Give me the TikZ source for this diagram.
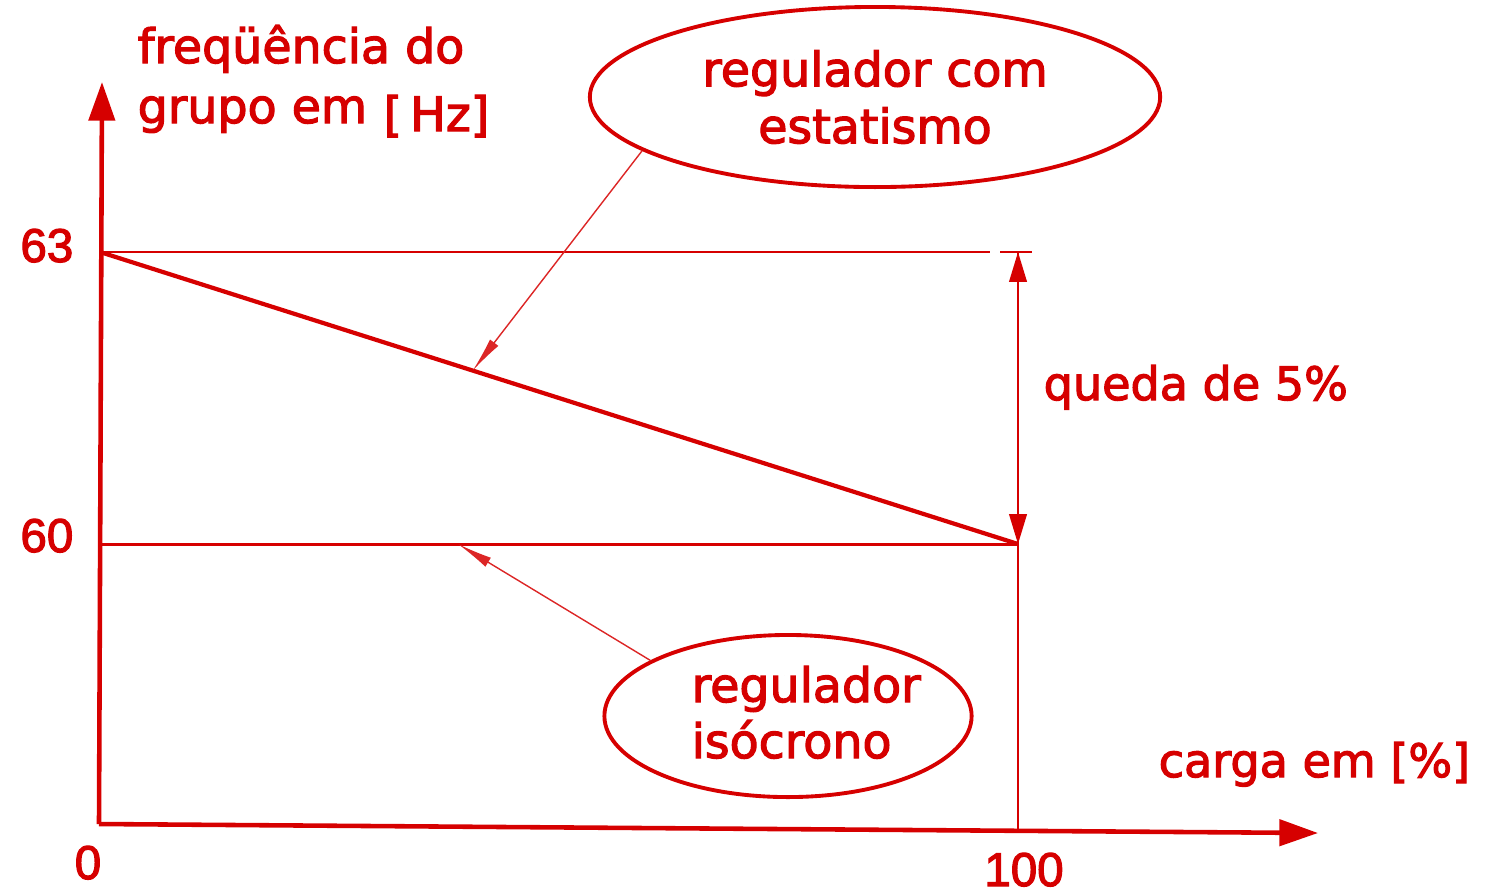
\documentclass[tikz,border=0pt]{standalone}
\usepackage{fontspec}
\setmainfont{DejaVu Sans}[FakeBold=2.5]
\newfontfamily\numfont{Liberation Sans}[FakeBold=2.5]
\usetikzlibrary{arrows.meta,shapes.geometric}
\definecolor{tinta}{RGB}{214,0,0}
\begin{document}
\begin{tikzpicture}[x=0.01cm, y=-0.01cm, >={Triangle[length=8.5pt,width=5pt]},
  every node/.style={text=tinta, inner sep=0pt, font=\fontsize{13.5}{16.2}\selectfont},
  eixo/.style={draw=tinta, line width=1.3pt, -{Triangle[length=11pt,width=7.4pt]}},
  balao/.style={ellipse, draw=tinta, line width=1.1pt, inner sep=0pt},
  guia/.style={draw=tinta!85, line width=0.4pt, -{Latex[length=10pt,width=3pt]}},
  numero/.style={font=\numfont\fontsize{13.5}{16}\selectfont},
  menor/.style={font=\fontsize{13.1}{16}\selectfont}]
 \useasboundingbox (0,0) rectangle (1486,893);
 \coordinate (O) at (99,824);
 \coordinate (f63) at (100,252);
 \coordinate (f60) at (100,544);
 \coordinate (c100) at (1018,544);
 \coordinate (topo) at (1018,252);
 \coordinate (base) at (1018,830);
 \draw[eixo] (O) -- (102,82);
 \draw[eixo] (O) -- (1318,833);
 \node[anchor=base west] (tit1) at (137,63) {freqüência do};
 \node[anchor=base west] (tit2) at (137,123) {grupo em};
 \node[anchor=base west] (hz) at (383,131) {[\,Hz]};
 \node[menor, anchor=base west] (carga) at (1158,777) {carga em [\%]};
 \node[numero, anchor=base east] (n63) at (74,262) {63};
 \node[numero, anchor=base east] (n60) at (74,552) {60};
 \node[numero, anchor=base] (n0) at (88,879) {0};
 \node[numero, anchor=base] (n100) at (1024,886) {100};
 \draw[tinta, line width=0.7pt] (f63) -- (990,252);
 \draw[tinta, line width=0.7pt] (1000,252) -- (1032,252);
 \draw[tinta, line width=0.85pt] (f60) -- (c100) coordinate[pos=0.39] (piso);
 \draw[tinta, line width=1.2pt] (f63) -- (c100) coordinate[pos=0.406] (pest);
 \draw[tinta, line width=0.6pt] (topo) -- (base);
 \draw[tinta, line width=0.6pt, <->] (topo) -- (c100);
 \node[menor, anchor=base west] (queda) at (1043,400) {queda de 5\%};
 \node[balao, align=center, minimum width=5.7cm, minimum height=1.8cm] (est) at (875,97) {regulador com\\estatismo};
 \node[balao, minimum width=3.67cm, minimum height=1.62cm] (iso) at (788,716) {};
 \node[anchor=base west] (iso1) at (691,702) {regulador};
 \node[anchor=base west] (iso2) at (691,758) {isócrono};
 \draw[guia] (est.193) -- (pest);
 \draw[guia] (iso.158) -- (piso);
\end{tikzpicture}
\end{document}
